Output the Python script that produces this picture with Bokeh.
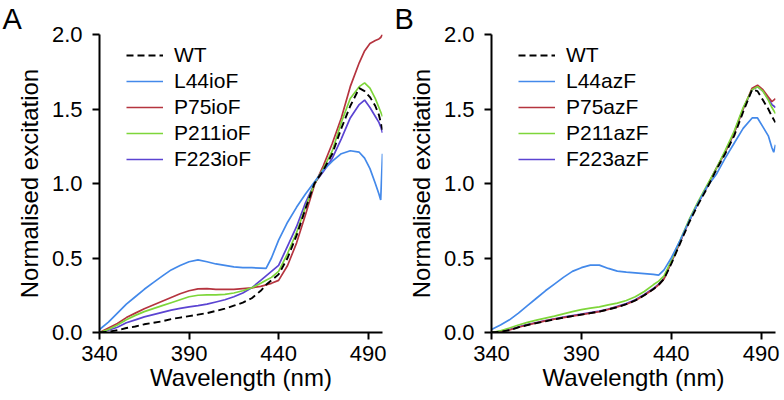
from bokeh.plotting import figure
from bokeh.layouts import row
from bokeh.models import FixedTicker, PrintfTickFormatter, Legend, LegendItem, Range1d
from bokeh.embed import file_html
from bokeh.resources import INLINE

# ---------------- data ----------------
wavelength = [340, 345, 350, 355, 360, 365, 370, 375, 380, 385, 390, 395, 400, 405, 410,
              415, 420, 425, 430, 433, 436, 440, 445, 450, 455, 460, 465, 470, 475, 480,
              485, 488, 491, 494, 496, 497, 498]

x_ticks = [340, 390, 440, 490]
y_ticks = [0.0, 0.5, 1.0, 1.5, 2.0]

# Panel A (ioF)
names_A = ["WT", "L44ioF", "P75ioF", "P211ioF", "F223ioF"]
wt_A = [0.0, 0.005, 0.015, 0.03, 0.04, 0.055, 0.065, 0.075, 0.09, 0.10, 0.11, 0.12, 0.13, 0.145, 0.16,
        0.18, 0.20, 0.23, 0.28, 0.32, 0.35, 0.39, 0.50, 0.65, 0.83, 1.0, 1.09, 1.2, 1.37, 1.52,
        1.64, 1.62, 1.58, 1.52, 1.46, 1.41, 1.36]
l44_A = [0.02, 0.07, 0.13, 0.19, 0.24, 0.29, 0.335, 0.378, 0.42, 0.45, 0.475, 0.487, 0.475, 0.46, 0.45,
         0.44, 0.435, 0.435, 0.432, 0.43, 0.50, 0.62, 0.74, 0.84, 0.93, 1.01, 1.09, 1.15, 1.2, 1.22,
         1.21, 1.17, 1.10, 1.0, 0.93, 0.89, 1.2]
p75_A = [0.0, 0.03, 0.06, 0.10, 0.13, 0.16, 0.185, 0.21, 0.235, 0.26, 0.28, 0.293, 0.295, 0.29, 0.29,
         0.29, 0.295, 0.30, 0.31, 0.32, 0.33, 0.35, 0.45, 0.60, 0.79, 0.99, 1.12, 1.27, 1.44, 1.65,
         1.81, 1.89, 1.94, 1.96, 1.97, 1.98, 2.0]
p211_A = [0.0, 0.02, 0.05, 0.085, 0.115, 0.14, 0.16, 0.18, 0.2, 0.22, 0.24, 0.25, 0.253, 0.253, 0.256,
          0.265, 0.28, 0.30, 0.33, 0.35, 0.37, 0.41, 0.53, 0.67, 0.84, 1.0, 1.1, 1.22, 1.41, 1.57,
          1.65, 1.675, 1.64, 1.57, 1.51, 1.48, 1.45]
f223_A = [0.0, 0.015, 0.035, 0.065, 0.085, 0.105, 0.12, 0.135, 0.15, 0.162, 0.172, 0.18, 0.19, 0.205, 0.22,
          0.24, 0.265, 0.30, 0.35, 0.38, 0.41, 0.45, 0.58, 0.71, 0.87, 1.0, 1.08, 1.17, 1.3, 1.44,
          1.53, 1.56, 1.51, 1.45, 1.41, 1.38, 1.34]

# Panel B (azF)
names_B = ["WT", "L44azF", "P75azF", "P211azF", "F223azF"]
wt_B = [0.0, 0.005, 0.015, 0.035, 0.05, 0.063, 0.075, 0.088, 0.1, 0.11, 0.12, 0.13, 0.14, 0.155, 0.17,
        0.19, 0.215, 0.25, 0.29, 0.32, 0.36, 0.46, 0.6, 0.74, 0.86, 0.97, 1.09, 1.2, 1.32, 1.48,
        1.63, 1.62, 1.56, 1.5, 1.45, 1.43, 1.41]
l44_B = [0.02, 0.05, 0.085, 0.13, 0.18, 0.23, 0.28, 0.325, 0.37, 0.41, 0.435, 0.452, 0.452, 0.43, 0.412,
         0.405, 0.4, 0.395, 0.39, 0.385, 0.42, 0.5, 0.62, 0.75, 0.87, 0.98, 1.06, 1.17, 1.27, 1.37,
         1.44, 1.44, 1.38, 1.32, 1.24, 1.21, 1.26]
p75_B = [0.0, 0.005, 0.017, 0.035, 0.05, 0.065, 0.078, 0.09, 0.1, 0.11, 0.12, 0.13, 0.14, 0.155, 0.172,
         0.19, 0.215, 0.25, 0.29, 0.32, 0.36, 0.47, 0.61, 0.75, 0.87, 0.98, 1.1, 1.21, 1.34, 1.5,
         1.64, 1.66, 1.63, 1.58, 1.55, 1.56, 1.57]
p211_B = [0.0, 0.012, 0.03, 0.05, 0.068, 0.083, 0.097, 0.11, 0.125, 0.14, 0.153, 0.163, 0.172, 0.185, 0.197,
          0.215, 0.24, 0.275, 0.32, 0.345, 0.38, 0.48, 0.62, 0.76, 0.88, 0.99, 1.1, 1.22, 1.35, 1.51,
          1.63, 1.65, 1.62, 1.56, 1.51, 1.49, 1.47]
f223_B = [0.0, 0.007, 0.02, 0.038, 0.053, 0.067, 0.08, 0.092, 0.103, 0.113, 0.123, 0.133, 0.143, 0.158, 0.175,
          0.194, 0.22, 0.255, 0.295, 0.325, 0.365, 0.47, 0.61, 0.75, 0.87, 0.98, 1.1, 1.21, 1.34, 1.5,
          1.63, 1.65, 1.62, 1.57, 1.53, 1.52, 1.51]

colors = ["black", "#4389EA", "#B5343F", "#7ED63A", "#5B44D2"]
FONT = "Liberation Sans"


def make_panel(letter, names, series, min_left, min_right):
    p = figure(width=392, height=400, output_backend="svg", toolbar_location=None,
               x_range=Range1d(340, 498), y_range=Range1d(0, 2.0),
               min_border_left=min_left, min_border_right=min_right,
               min_border_top=33, min_border_bottom=68)
    p.xgrid.visible = False
    p.ygrid.visible = False
    p.outline_line_color = None

    p.title.text = letter
    p.title.text_font = FONT
    p.title.text_font_size = "29px"
    p.title.text_font_style = "normal"
    p.title.text_color = "black"
    p.title.align = "left"
    p.title.offset = -97
    p.title.standoff = 0

    renderers = {}
    # draw order: purple, red, green, blue, WT on top
    for idx in [4, 2, 3, 1, 0]:
        kw = dict(line_color=colors[idx], line_width=1.7)
        if idx == 0:
            kw["line_dash"] = "7 4"
            kw["line_width"] = 1.9
        renderers[idx] = p.line(wavelength, series[idx], **kw)

    items = [LegendItem(label=names[i], renderers=[renderers[i]]) for i in range(5)]
    legend = Legend(items=items, location=(27, 160), padding=0, margin=0, spacing=0,
                    glyph_width=37, glyph_height=26, label_height=26, label_standoff=11,
                    label_text_font=FONT, label_text_font_size="21px", label_text_color="black",
                    border_line_color=None, background_fill_alpha=0)
    p.add_layout(legend, "center")

    for ax in (p.xaxis, p.yaxis):
        ax.major_tick_out = 7
        ax.major_tick_in = 0
        ax.minor_tick_out = 0
        ax.minor_tick_in = 0
        ax.axis_line_width = 2
        ax.axis_line_color = "black"
        ax.major_tick_line_width = 2
        ax.major_tick_line_color = "black"
        ax.major_label_text_font = FONT
        ax.major_label_text_font_size = "22px"
        ax.major_label_text_color = "black"
        ax.axis_label_text_font = FONT
        ax.axis_label_text_font_size = "24px"
        ax.axis_label_text_font_style = "normal"
        ax.axis_label_text_color = "black"

    p.xaxis.ticker = FixedTicker(ticks=x_ticks)
    p.yaxis.ticker = FixedTicker(ticks=y_ticks)
    p.yaxis.formatter = PrintfTickFormatter(format="%.1f")
    p.xaxis.axis_label = "Wavelength (nm)"
    p.yaxis.axis_label = "Normalised excitation"
    p.xaxis.major_label_standoff = 6
    p.xaxis.axis_label_standoff = 0
    p.yaxis.major_label_standoff = 10
    p.yaxis.axis_label_standoff = 6
    return p


pA = make_panel("A", names_A, [wt_A, l44_A, p75_A, p211_A, f223_A], 99, 10)
pB = make_panel("B", names_B, [wt_B, l44_B, p75_B, p211_B, f223_B], 99, 9)

layout = row(pA, pB)
open("out.html", "w").write(file_html(layout, INLINE))
